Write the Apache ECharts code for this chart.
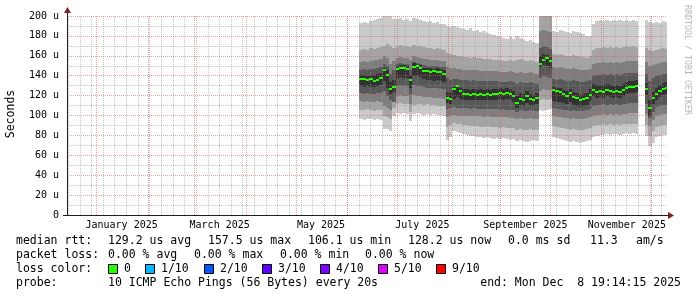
<!DOCTYPE html>
<html><head><meta charset="utf-8">
<script src="https://cdn.jsdelivr.net/npm/echarts@6/dist/echarts.min.js"></script>
<style>html,body{margin:0;padding:0;background:#fff}#c{width:697px;height:297px}</style>
</head><body><div id="c"></div><script>
// x = days since 1 Jan 2025; each sample covers 2 days
const sampleDays = [158,160,162,164,166,168,170,172,174,176,178,180,182,184,186,188,190,192,194,196,198,200,202,204,206,208,210,212,214,216,218,220,222,224,226,228,230,232,234,236,238,240,242,244,246,248,250,252,254,256,258,260,262,264,266,268,270,272,274,276,278,280,282,284,286,288,290,292,294,296,298,300,302,304,306,308,310,312,314,316,318,320,322,324,326,328,330,332,334,336,338,340,342];
// sorted pings (microseconds): p1 lowest ... p10 highest
const p10 = [193,194,193,195,196,197,198, 205,205,203,197, 197,198,196,197,195,198,197,196,195,194,195,193,194,192,192, 190,189, 190,189,188,187,186,188,185,186,184,185,183,182,181,180,179,178,177,179,177, 180,178,177,175,176,174,173, 212,215,214,213, 185,184,186,185,184,183,185,184,183,182,180, 180,192,195,196,195,196,195,196,195,196,195,196,195,196,195, null,null, 196,194,193,194,193,195,194];
const p9 = [166,167,166,168,167,168,169, 170,172,170,168, 170,171,170,170,169,171,170,170,169,168,168,167,168,167,166, 163,162, 161,160,160,159,159,158,159,158,158,157,157,157,156,156,156,155,155,156,155, 156,157,156,155,156,155,154, 206,208,207,206, 162,161,162,161,160,160,161,160,159,159,158, 160,166,168,168,169,168,169,168,169,168,169,170,169,170,169, null,null, 168,166,165,166,167,168,167];
const p8 = [154,155,154,155,156,156,157, 160,158,152,155, 158,159,158,158,156,160,159,158,157,157,156,156,156,155,155, 150,148, 148,147,147,146,146,146,146,146,145,145,145,145,145,145,144,144,144,145,144, 143,144,143,143,144,143,142, 185,186,185,184, 149,148,149,148,147,147,148,147,146,146,146, 147,152,153,153,154,153,154,153,154,153,154,155,155,155,155, null,null, 154,150,151,152,153,154,154];
const p7 = [146,147,146,147,147,148,149, 152,150,142,146, 152,153,152,152,146,154,153,152,151,150,150,150,150,149,149, 138,136, 137,137,136,136,136,135,136,135,135,135,135,135,135,135,134,134,134,135,134, 132,134,133,133,134,133,132, 168,170,169,167, 137,136,137,136,135,135,136,135,134,134,135, 136,140,141,141,142,141,142,141,142,141,142,143,143,143,143, null,null, 142,135,138,140,141,142,142];
const p6 = [141,141,140,141,141,142,143, 148,146,134,136, 150,151,151,150,141,153,152,151,148,148,148,147,148,147,146, 124,123, 129,131,128,127,127,126,127,126,127,126,127,126,127,127,128,127,128,127,125, 120,123,122,125,122,121,123, 160,162,161,159, 129,128,128,126,125,127,124,123,121,122,123, 127,132,131,131,131,132,131,130,131,130,132,134,135,135,136, null,null, 133,116,124,128,131,133,134];
const p5 = [130,129,130,129,129,130,131, 135,128,122,124, 138,139,138,138,128,140,140,139,137,136,136,135,136,135,134, 113,112, 117,119,117,116,116,116,116,116,116,116,116,116,116,116,117,116,117,116,114, 108,111,110,113,111,110,112, 149,151,150,148, 115,114,114,113,112,114,111,110,109,110,111, 115,120,118,119,118,120,119,118,119,118,120,122,123,123,124, null,null, 121,100,112,116,119,121,122];
const p4 = [123,122,123,122,122,123,123, 125,120,116,114, 130,131,130,130,122,131,130,130,129,128,128,128,128,127,127, 107,108, 109,108,108,108,108,107,108,107,107,107,107,107,107,107,106,107,106,106,106, 104,106,105,105,106,105,105, 138,140,139,138, 108,107,107,106,106,105,106,105,105,105,106, 107,110,111,111,112,111,112,111,112,111,112,112,113,113,113, null,null, 112,97,104,109,110,111,111];
const p3 = [115,114,115,114,114,115,114, 110,108,106,116, 120,121,120,120,112,121,120,120,119,119,119,118,118,118,117, 98,100, 101,100,100,99,99,99,99,99,99,98,99,98,98,98,98,98,98,97,97, 96,97,96,96,97,96,96, 125,127,126,126, 99,98,98,97,97,96,97,96,96,96,97, 98,100,101,101,102,101,102,101,102,101,102,102,103,103,103, null,null, 102,89,95,100,101,102,102];
const p2 = [106,106,107,106,105,106,106, 100,98,96,108, 112,113,112,112,104,111,112,112,111,112,111,111,110,110,110, 88,90, 92,91,91,90,90,89,89,89,88,88,89,88,88,88,87,88,87,87,87, 85,86,85,85,86,85,85, 116,117,116,117, 89,88,87,87,86,85,86,85,85,85,86, 87,89,90,90,91,90,91,90,91,90,91,91,91,91,91, null,null, 90,79,84,88,89,90,90];
const p1 = [96,95,96,96,95,96,95, 86,86,84,100, 103,102,103,102,94,102,103,102,101,102,101,102,101,101,100, 75,78, 84,83,82,81,80,79,79,78,78,77,78,77,76,77,76,77,76,75,76, 74,75,74,73,74,75,74, 106,105,106,107, 78,77,76,75,74,73,74,73,72,73,74, 75,78,79,80,80,81,80,81,81,80,81,82,81,82,81, null,null, 79,69,72,78,79,80,80];
const median = [137,137,136,137,135,136,138, 146,141,127,129, 147,148,148,147,136,149,150,148,145,145,144,145,144,144,142, 118,117, 127,130,125,122,122,121,122,121,122,121,122,121,122,122,123,122,123,122,120, 113,117,116,120,117,116,118, 152,156,158,155, 126,125,124,122,120,123,119,118,116,117,118, 121,126,124,125,124,126,125,124,125,124,126,128,129,129,130, null,null, 127,108,118,122,125,127,128];

const monthStarts = [0,31,59,90,120,151,181,212,243,273,304,334];
const monthLabelDays = [15,74,135,196,258,319];
const monthLabels = ['January 2025','March 2025','May 2025','July 2025','September 2025','November 2025'];
const rttStats = ['median rtt:','129.2 us avg','157.5 us max','106.1 us min','128.2 us now','0.0 ms sd','11.3','am/s'];
const lossStats = ['packet loss:','0.00 % avg','0.00 % max','0.00 % min','0.00 % now'];
const lossNames = ['0','1/10','2/10','3/10','4/10','5/10','9/10'];
const lossColors = ['#26ff00','#00b8ff','#0059ff','#5e00ff','#7e00ff','#dd00ff','#ff0000'];
const probeText = '10 ICMP Echo Pings (56 Bytes) every 20s';
const endText = 'end: Mon Dec  8 19:14:15 2025';

const STEP = 2;
const X_MIN = -17.87, X_MAX = 343.2;
const smokeColors = ['#cacaca','#a4a4a4','#7e7e7e','#585858','#323232'];
const MONO = '"DejaVu Sans Mono", monospace';

const weekLines = [];
for (let d = -17; d <= X_MAX; d += 7) weekLines.push(d);

const rows = sampleDays.map((d, i) => [d, p1[i], p2[i], p3[i], p4[i], p5[i], p6[i], p7[i], p8[i], p9[i], p10[i], median[i]]);
const gridRows = weekLines.map(d => [d, 0]).concat(monthStarts.map(d => [d, 1]));

function isMissing(v) { return v == null || isNaN(v); }

function renderSmoke(params, api) {
  const d = api.value(0);
  if (isMissing(api.value(1))) return null;
  const cs = params.coordSys;
  const x0 = Math.round(api.coord([d, 0])[0]);
  const x1 = Math.round(api.coord([d + STEP, 0])[0]);
  const children = [];
  for (let b = 0; b < 5; b++) {
    const lo = api.value(1 + b), hi = api.value(10 - b);
    const yTop = Math.round(api.coord([d, hi])[1]);
    const yBot = Math.round(api.coord([d, lo])[1]);
    const r = echarts.graphic.clipRectByRect({x: x0, y: yTop, width: x1 - x0, height: yBot - yTop},
      {x: cs.x, y: cs.y, width: cs.width, height: cs.height});
    if (r) children.push({type: 'rect', shape: r, style: {fill: smokeColors[b]}});
  }
  return {type: 'group', children};
}
function renderMedian(params, api) {
  const d = api.value(0);
  const m = api.value(11);
  if (isMissing(m)) return null;
  const cs = params.coordSys;
  const x0 = Math.round(api.coord([d, 0])[0]);
  const x1 = Math.round(api.coord([d + STEP, 0])[0]);
  const y = Math.round(api.coord([d, m])[1]);
  const r = echarts.graphic.clipRectByRect({x: x0, y: y - 1, width: x1 - x0, height: 2},
    {x: cs.x, y: cs.y, width: cs.width, height: cs.height});
  if (!r) return null;
  return {type: 'rect', shape: r, style: {fill: '#26ff00'}};
}
function renderVGrid(params, api) {
  const d = api.value(0), major = api.value(1) === 1;
  const cs = params.coordSys;
  const x = Math.floor(api.coord([d, 0])[0]) + 0.5;
  if (x < cs.x + 1 || x > cs.x + cs.width) return null;
  return {type: 'line', shape: {x1: x, y1: cs.y, x2: x, y2: cs.y + cs.height},
    style: {stroke: major ? 'rgba(222,79,79,0.55)' : 'rgba(143,143,143,0.5)', lineWidth: 1, lineDash: [1, 1]},
    z2: major ? 2 : 1};
}

const chart = echarts.init(document.getElementById('c'), null, {renderer: 'canvas'});
const txt = (text, x, y, extra) => Object.assign({type: 'text', x, y, silent: true,
  style: Object.assign({text, font: '11.5px ' + MONO, fill: '#000', verticalAlign: 'middle', textAlign: 'left'}, extra || {})});

const rttX = [16,108,208,308,408,508,590,636];
const lossX = [16,108,194,280,365];
const boxX = [108,145,204,262,320,378,436];
const graphics = [];
rttStats.forEach((t, i) => graphics.push(txt(t, rttX[i], 241.5)));
lossStats.forEach((t, i) => graphics.push(txt(t, lossX[i], 255.5)));
graphics.push(txt('loss color:', 16, 269.5));
lossNames.forEach((t, i) => {
  graphics.push({type: 'rect', silent: true, shape: {x: boxX[i] + 0.5, y: 264.5, width: 9, height: 9},
    style: {fill: lossColors[i], stroke: '#000', lineWidth: 1}});
  graphics.push(txt(t, boxX[i] + 16, 269.5));
});
graphics.push(txt('probe:', 16, 283.5));
graphics.push(txt(probeText, 108, 283.5));
graphics.push(txt(endText, 681, 283.5, {textAlign: 'right'}));
graphics.push(txt('Seconds', 11, 114, {textAlign: 'center'}));
graphics[graphics.length - 1].rotation = Math.PI / 2;
graphics.push({type: 'text', x: 687, y: 60, rotation: -Math.PI / 2, silent: true,
  style: {text: 'RRDTOOL / TOBI OETIKER', font: '8.3px ' + MONO, fill: '#b8b8b8', textAlign: 'center', verticalAlign: 'middle'}});
// axis arrows & extensions
graphics.push({type: 'line', silent: true, shape: {x1: 67.5, y1: 16, x2: 67.5, y2: 11}, style: {stroke: '#1f1f1f', lineWidth: 1}});
graphics.push({type: 'polygon', silent: true, shape: {points: [[64, 13], [71, 13], [67.5, 7]]}, style: {fill: '#7f1f1f'}});
graphics.push({type: 'line', silent: true, shape: {x1: 63, y1: 215.5, x2: 668, y2: 215.5}, style: {stroke: '#1f1f1f', lineWidth: 1}});
graphics.push({type: 'polygon', silent: true, shape: {points: [[668, 212], [668, 219], [674, 215.5]]}, style: {fill: '#7f1f1f'}});

chart.setOption({
  animation: false,
  backgroundColor: '#ffffff',
  grid: {left: 67, right: 30, top: 16, bottom: 82, containLabel: false},
  xAxis: {
    type: 'value', min: X_MIN, max: X_MAX, z: 6,
    axisLine: {show: true, onZero: false, lineStyle: {color: '#1f1f1f', width: 1}},
    axisTick: {show: false},
    splitLine: {show: false},
    axisLabel: {
      customValues: monthLabelDays, margin: 5, color: '#000', fontFamily: 'DejaVu Sans Mono', fontSize: 10,
      formatter: v => { const i = monthLabelDays.indexOf(Math.round(v)); return i >= 0 ? monthLabels[i] : ''; }
    }
  },
  yAxis: {
    type: 'value', min: 0, max: 200, interval: 20, z: 6,
    axisLine: {show: true, onZero: false, lineStyle: {color: '#1f1f1f', width: 1}},
    axisTick: {show: false},
    axisLabel: {margin: 8, color: '#000', fontFamily: 'DejaVu Sans Mono', fontSize: 10,
      formatter: v => v === 0 ? '0' : v + ' u'},
    splitLine: {show: true, lineStyle: {color: 'rgba(222,79,79,0.55)', width: 1, type: [1, 1]}},
    minorTick: {show: false, splitNumber: 2},
    minorSplitLine: {show: true, lineStyle: {color: 'rgba(143,143,143,0.5)', width: 1, type: [1, 1]}}
  },
  series: [
    {type: 'custom', name: 'smoke', data: rows, renderItem: renderSmoke, z: 2, silent: true,
      encode: {x: 0, y: [1, 10]}},
    {type: 'custom', name: 'vgrid', data: gridRows, renderItem: renderVGrid, z: 5, silent: true,
      encode: {x: 0, y: 1}},
    {type: 'custom', name: 'median', data: rows, renderItem: renderMedian, z: 8, silent: true,
      encode: {x: 0, y: 11}}
  ],
  graphic: graphics
});
</script></body></html>
